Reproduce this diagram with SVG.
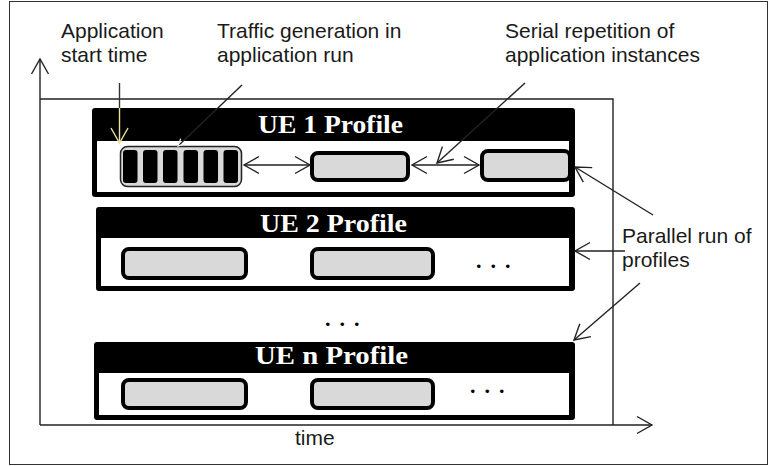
<svg xmlns="http://www.w3.org/2000/svg" width="769" height="466" viewBox="0 0 769 466">
  <style>
    .lbl { font-family: "Liberation Sans", Arial, sans-serif; font-size: 21px; fill: #1a1a1a; }
    .hdr { font-family: "Liberation Serif", "Times New Roman", serif; font-size: 26px; font-weight: bold; fill: #ffffff; }
    .dots { font-family: "Liberation Serif", serif; font-size: 22px; font-weight: bold; fill: #000; letter-spacing: 9px; }
    .body { fill: #ffffff; }
    .shell { fill: #000; }
    .app { fill: #d9d9d9; stroke: #000; stroke-width: 4; }
    .line { fill: none; stroke: #222; stroke-width: 1.4; }
  </style>
  <defs>
    <marker id="arrow" viewBox="-16 -10 18 20" refX="0" refY="0" markerWidth="18" markerHeight="20" markerUnits="userSpaceOnUse" orient="auto-start-reverse">
      <path d="M-15,-8.5 L0,0 L-15,8.5" fill="none" stroke="#222" stroke-width="1.4"/>
    </marker>
    <marker id="arrowY" viewBox="-16 -10 18 20" refX="0" refY="0" markerWidth="18" markerHeight="20" markerUnits="userSpaceOnUse" orient="auto">
      <path d="M-15,-8.5 L0,0 L-15,8.5" fill="none" stroke="#e8e2a4" stroke-width="1.4"/>
    </marker>
    <marker id="arrowS" viewBox="-8 -5 10 10" refX="0" refY="0" markerWidth="10" markerHeight="10" markerUnits="userSpaceOnUse" orient="auto">
      <path d="M-7,-3.5 L0,0 L-7,3.5" fill="none" stroke="#eee" stroke-width="1.2"/>
    </marker>
  </defs>

  <!-- picture border -->
  <rect x="9.5" y="1.5" width="758" height="463" fill="#fff" stroke="#333" stroke-width="1"/>

  <!-- axes and run window -->
  <g id="axes">
    <line class="line" x1="40" y1="425" x2="40" y2="59" marker-end="url(#arrow)"/>
    <line class="line" x1="40" y1="425" x2="652" y2="425" marker-end="url(#arrow)"/>
    <polyline class="line" points="40,99 613,99 613,425"/>
    <text class="lbl" x="295" y="445">time</text>
  </g>

  <!-- UE 1 profile -->
  <g id="ue1">
    <rect class="shell" x="92" y="108" width="483" height="89" rx="3"/>
    <rect class="body" x="97" y="141" width="472" height="51"/>
    <text class="hdr" x="258" y="133" textLength="145" lengthAdjust="spacingAndGlyphs">UE 1 Profile</text>
    <g id="ue1-run">
      <rect x="120.5" y="146.5" width="121" height="40" rx="7" fill="#d9d9d9" stroke="#222" stroke-width="1.5"/>
      <rect x="123" y="150" width="14.5" height="33" rx="3" fill="#000"/>
      <rect x="143" y="150" width="14.5" height="33" rx="3" fill="#000"/>
      <rect x="163" y="150" width="14.5" height="33" rx="3" fill="#000"/>
      <rect x="183.5" y="150" width="14.5" height="33" rx="3" fill="#000"/>
      <rect x="203.5" y="150" width="14.5" height="33" rx="3" fill="#000"/>
      <rect x="223.5" y="150" width="14.5" height="33" rx="3" fill="#000"/>
    </g>
    <rect class="app" x="312" y="153" width="96" height="27" rx="6"/>
    <rect class="app" x="482" y="151" width="88" height="29" rx="6"/>
  </g>

  <!-- UE 2 profile -->
  <g id="ue2">
    <rect class="shell" x="96" y="207" width="479" height="84" rx="3"/>
    <rect class="body" x="101" y="238" width="468" height="48"/>
    <text class="hdr" x="260" y="232" textLength="147" lengthAdjust="spacingAndGlyphs">UE 2 Profile</text>
    <rect class="app" x="123" y="249" width="123" height="29" rx="6"/>
    <rect class="app" x="312" y="249" width="121" height="29" rx="6"/>
    <text class="dots" x="476" y="268">...</text>
  </g>

  <!-- gap marker between profiles -->
  <text id="more" class="dots" x="325" y="326">...</text>

  <!-- UE n profile -->
  <g id="uen">
    <rect class="shell" x="94" y="342" width="481" height="78" rx="3"/>
    <rect class="body" x="99" y="373" width="470" height="42"/>
    <text class="hdr" x="255" y="364" textLength="153" lengthAdjust="spacingAndGlyphs">UE n Profile</text>
    <rect class="app" x="123" y="380" width="123" height="28" rx="6"/>
    <rect class="app" x="312" y="380" width="121" height="28" rx="6"/>
    <text class="dots" x="470" y="393">...</text>
  </g>

  <!-- labels -->
  <g id="labels">
    <text class="lbl" x="61" y="38">Application</text>
    <text class="lbl" x="61" y="62">start time</text>
    <text class="lbl" x="217" y="38">Traffic generation in</text>
    <text class="lbl" x="217" y="62">application run</text>
    <text class="lbl" x="505" y="38">Serial repetition of</text>
    <text class="lbl" x="505" y="62">application instances</text>
    <text class="lbl" x="622" y="243">Parallel run of</text>
    <text class="lbl" x="622" y="267">profiles</text>
  </g>

  <!-- connectors -->
  <g id="connectors">
    <line x1="119.5" y1="83" x2="119.5" y2="108" stroke="#333" stroke-width="1.4"/>
    <line x1="119.5" y1="108" x2="119.5" y2="143" stroke="#e8e2a4" stroke-width="1.4" marker-end="url(#arrowY)"/>
    <line class="line" x1="242" y1="85" x2="178" y2="146" marker-end="url(#arrowS)"/>
    <line class="line" x1="244" y1="165" x2="310" y2="165" marker-start="url(#arrow)" marker-end="url(#arrow)"/>
    <line class="line" x1="412" y1="165" x2="479" y2="165" marker-start="url(#arrow)" marker-end="url(#arrow)"/>
    <line class="line" x1="525" y1="83" x2="437" y2="163" marker-end="url(#arrow)"/>
    <line class="line" x1="653" y1="215" x2="575" y2="167" marker-end="url(#arrow)"/>
    <line class="line" x1="625" y1="251" x2="575" y2="251" marker-end="url(#arrow)"/>
    <line class="line" x1="640" y1="283" x2="574" y2="340" marker-end="url(#arrow)"/>
  </g>
</svg>
